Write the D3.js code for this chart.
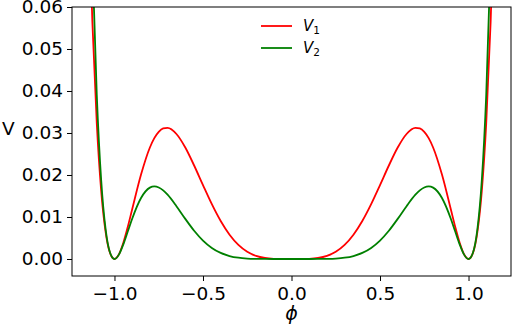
<!DOCTYPE html>
<html>
<head>
<meta charset="utf-8">
<script src="https://cdn.jsdelivr.net/npm/d3@7"></script>
<style>
  body { margin: 0; background: #fff; }
  svg { display: block; font-family: "DejaVu Sans", sans-serif; }
</style>
</head>
<body>
<script>
// field values
const phi = [-1.15, -1.125, -1.1, -1.075, -1.05, -1.025, -1.0, -0.975, -0.95, -0.925, -0.9, -0.85, -0.8, -0.775, -0.75, -0.725, -0.7, -0.65, -0.6, -0.55, -0.5, -0.45, -0.4, -0.35, -0.3, -0.25, -0.2, -0.15, -0.1, -0.05,
  0,
  0.05, 0.1, 0.15, 0.2, 0.25, 0.3, 0.35, 0.4, 0.45, 0.5, 0.55, 0.6, 0.65, 0.7, 0.725, 0.75, 0.775, 0.8, 0.85, 0.9, 0.925, 0.95, 0.975, 1.0, 1.025, 1.05, 1.075, 1.1, 1.125, 1.15];

const v1 = [0.090954, 0.056508, 0.032283, 0.016172, 0.006385, 0.001414, 0, 0.001102, 0.003871, 0.00763, 0.011843, 0.020099, 0.026542, 0.02877, 0.030281, 0.031086, 0.031225, 0.029766, 0.026542, 0.022259, 0.017578, 0.01304, 0.009032, 0.005777, 0.003354, 0.001717, 0.000737, 0.000242, 0.000049, 0.000003,
  0,
  0.000003, 0.000049, 0.000242, 0.000737, 0.001717, 0.003354, 0.005777, 0.009032, 0.01304, 0.017578, 0.022259, 0.026542, 0.029766, 0.031225, 0.031086, 0.030281, 0.02877, 0.026542, 0.020099, 0.011843, 0.00763, 0.003871, 0.001102, 0, 0.001414, 0.006385, 0.016172, 0.032283, 0.056508, 0.090954];

const v2 = [0.120287, 0.071518, 0.039063, 0.018689, 0.00704, 0.001486, 0, 0.001047, 0.003494, 0.006528, 0.009593, 0.014522, 0.016987, 0.01728, 0.017033, 0.01634, 0.0153, 0.012576, 0.009555, 0.006733, 0.004395, 0.002641, 0.001445, 0.000708, 0.000302, 0.000107, 0.00003, 0.000005, 0.0000005, 0,
  0,
  0, 0.0000005, 0.000005, 0.00003, 0.000107, 0.000302, 0.000708, 0.001445, 0.002641, 0.004395, 0.006733, 0.009555, 0.012576, 0.0153, 0.01634, 0.017033, 0.01728, 0.016987, 0.014522, 0.009593, 0.006528, 0.003494, 0.001047, 0, 0.001486, 0.00704, 0.018689, 0.039063, 0.071518, 0.120287];

const xTicks = [-1.0, -0.5, 0.0, 0.5, 1.0];
const yTicks = [0.00, 0.01, 0.02, 0.03, 0.04, 0.05, 0.06];

const seriesNames = ['1', '2'];
const seriesColors = ['#ff0000', '#008000'];

// layout
const SIZE = { width: 512, height: 328, left: 72, right: 1, top: 7, bottom: 52 };
SIZE.innerWidth = SIZE.width - SIZE.left - SIZE.right;
SIZE.innerHeight = SIZE.height - SIZE.top - SIZE.bottom;

const svg = d3.select('body').append('svg')
    .attr('width', SIZE.width)
    .attr('height', SIZE.height);

const x = d3.scaleLinear().domain([-1.24, 1.24]).range([0, SIZE.innerWidth]);
const y = d3.scaleLinear().domain([-0.00405, 0.06]).range([SIZE.innerHeight, 0]);

const canvas = svg.append('g')
    .attr('transform', `translate(${SIZE.left},${SIZE.top})`);

svg.append('defs').append('clipPath').attr('id', 'plot-clip')
  .append('rect')
    .attr('width', SIZE.innerWidth)
    .attr('height', SIZE.innerHeight);

const line = d3.line()
    .x(d => x(d[0]))
    .y(d => y(d[1]))
    .curve(d3.curveMonotoneX);

const lines = canvas.append('g').attr('clip-path', 'url(#plot-clip)');
[v1, v2].forEach((vals, i) => {
  lines.append('path')
      .datum(phi.map((p, j) => [p, vals[j]]))
      .attr('fill', 'none')
      .attr('stroke', seriesColors[i])
      .attr('stroke-width', 1.8)
      .attr('d', line);
});

// axes
const xAxis = d3.axisBottom(x).tickValues(xTicks).tickFormat(d3.format('.1f'))
    .tickSizeInner(5).tickSizeOuter(0).tickPadding(5.5);
const yAxis = d3.axisLeft(y).tickValues(yTicks).tickFormat(d3.format('.2f'))
    .tickSizeInner(5).tickSizeOuter(0).tickPadding(4);

const xAxisGroup = canvas.append('g')
    .attr('transform', `translate(0,${SIZE.innerHeight})`)
    .call(xAxis);
const yAxisGroup = canvas.append('g').call(yAxis);

[xAxisGroup, yAxisGroup].forEach(g => {
  g.select('.domain').remove();
  g.selectAll('line').attr('stroke', '#000').attr('stroke-width', 1);
  g.selectAll('text')
      .attr('fill', '#000')
      .style('font-family', '"DejaVu Sans", sans-serif')
      .style('font-size', '18.5px');
});

// frame
canvas.append('rect')
    .attr('width', SIZE.innerWidth)
    .attr('height', SIZE.innerHeight)
    .attr('fill', 'none')
    .attr('stroke', '#000')
    .attr('stroke-width', 1);

// axis labels
svg.append('text')
    .attr('x', SIZE.left + x(0))
    .attr('y', 320)
    .attr('text-anchor', 'middle')
    .style('font-size', '19px')
    .style('font-style', 'italic')
    .text('\u03d5');

svg.append('text')
    .attr('x', 2)
    .attr('y', 135)
    .style('font-size', '18.5px')
    .text('V');

// legend, no frame
const legend = svg.append('g').attr('transform', 'translate(261,26)');
seriesNames.forEach((name, i) => {
  const row = legend.append('g').attr('transform', `translate(0,${i * 22})`);
  row.append('line')
      .attr('x1', 0).attr('x2', 31)
      .attr('stroke', seriesColors[i])
      .attr('stroke-width', 1.8);
  const t = row.append('text')
      .attr('x', 42)
      .attr('y', 5)
      .style('font-size', '15px');
  t.append('tspan').style('font-style', 'italic').text('V');
  t.append('tspan').attr('dy', 3).style('font-size', '10.5px').text(name);
});
</script>
</body>
</html>
